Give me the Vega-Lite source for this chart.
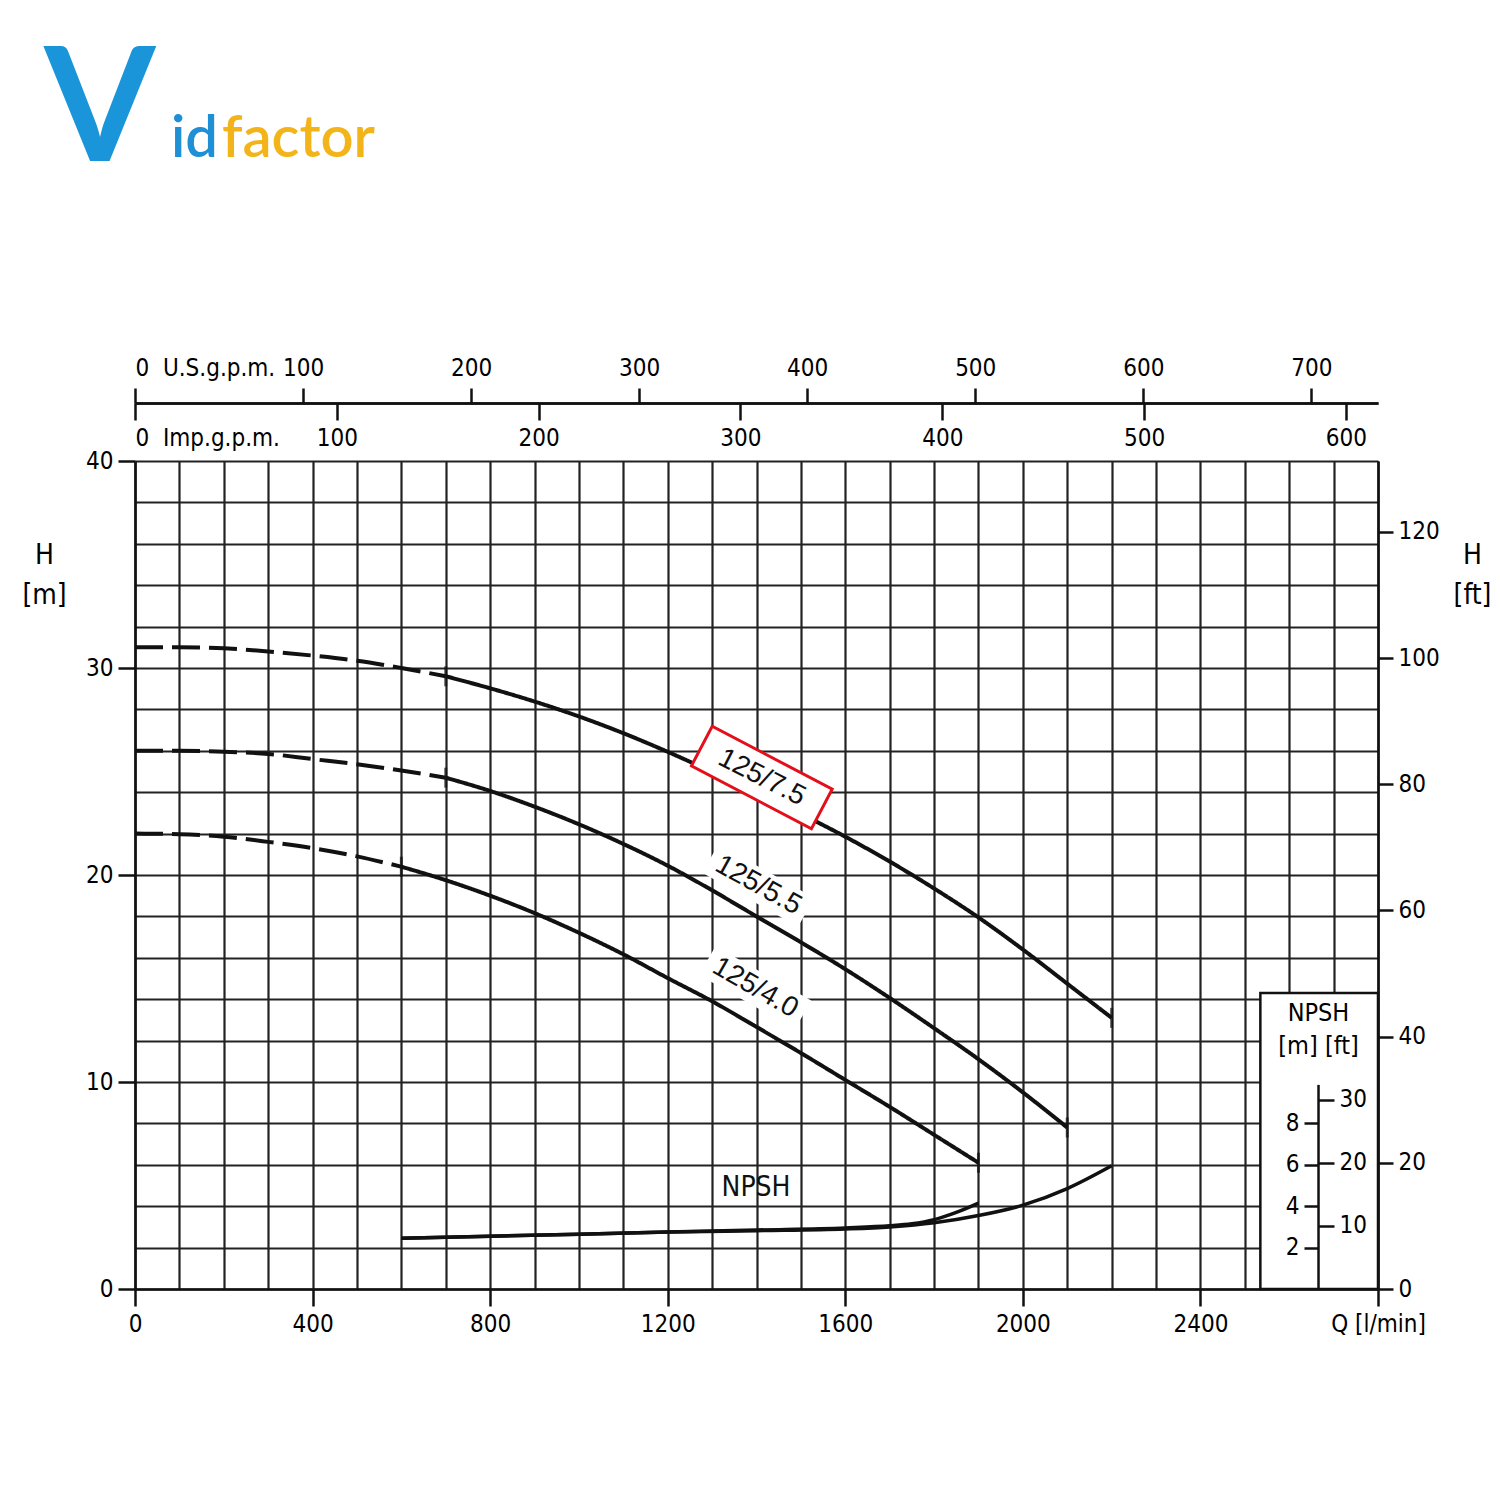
{
  "$schema": "https://vega.github.io/schema/vega-lite/v6.json",
  "width": 1243,
  "height": 828,
  "autosize": "none",
  "padding": {"left": 135, "top": 461, "right": 122, "bottom": 211},
  "background": "white",
  "config": {
    "view": {"stroke": null},
    "font": "DejaVu Sans Condensed, DejaVu Sans, sans-serif",
    "axis": {
      "labelFont": "DejaVu Sans Condensed, DejaVu Sans, sans-serif",
      "titleFont": "DejaVu Sans Condensed, DejaVu Sans, sans-serif",
      "labelFontSize": 24,
      "labelColor": "#000",
      "titleColor": "#000",
      "titleFontWeight": "normal",
      "tickColor": "#111",
      "tickWidth": 2.5,
      "domainColor": "#111",
      "domainWidth": 2.5,
      "labelFlush": false,
      "labelOverlap": false,
      "labelBound": false,
      "grid": false
    }
  },
  "datasets": {
    "curves": [
      {"seg": "7.5d", "part": "dashed", "q": 0, "h": 31.0},
      {"seg": "7.5d", "part": "dashed", "q": 100, "h": 31.0},
      {"seg": "7.5d", "part": "dashed", "q": 200, "h": 30.95},
      {"seg": "7.5d", "part": "dashed", "q": 300, "h": 30.8},
      {"seg": "7.5d", "part": "dashed", "q": 400, "h": 30.6},
      {"seg": "7.5d", "part": "dashed", "q": 500, "h": 30.35},
      {"seg": "7.5d", "part": "dashed", "q": 600, "h": 30.0},
      {"seg": "7.5d", "part": "dashed", "q": 700, "h": 29.6},
      {"seg": "7.5s", "part": "solid", "q": 700, "h": 29.6},
      {"seg": "7.5s", "part": "solid", "q": 800, "h": 29.02},
      {"seg": "7.5s", "part": "solid", "q": 900, "h": 28.38},
      {"seg": "7.5s", "part": "solid", "q": 1000, "h": 27.66},
      {"seg": "7.5s", "part": "solid", "q": 1100, "h": 26.85},
      {"seg": "7.5s", "part": "solid", "q": 1200, "h": 25.95},
      {"seg": "7.5s", "part": "solid", "q": 1300, "h": 24.98},
      {"seg": "7.5s", "part": "solid", "q": 1400, "h": 23.98},
      {"seg": "7.5s", "part": "solid", "q": 1500, "h": 22.95},
      {"seg": "7.5s", "part": "solid", "q": 1600, "h": 21.85},
      {"seg": "7.5s", "part": "solid", "q": 1700, "h": 20.65},
      {"seg": "7.5s", "part": "solid", "q": 1800, "h": 19.35},
      {"seg": "7.5s", "part": "solid", "q": 1900, "h": 17.95},
      {"seg": "7.5s", "part": "solid", "q": 2000, "h": 16.4},
      {"seg": "7.5s", "part": "solid", "q": 2100, "h": 14.75},
      {"seg": "7.5s", "part": "solid", "q": 2200, "h": 13.1},
      {"seg": "5.5d", "part": "dashed", "q": 0, "h": 26.0},
      {"seg": "5.5d", "part": "dashed", "q": 100, "h": 26.0},
      {"seg": "5.5d", "part": "dashed", "q": 200, "h": 25.95},
      {"seg": "5.5d", "part": "dashed", "q": 300, "h": 25.85},
      {"seg": "5.5d", "part": "dashed", "q": 400, "h": 25.6},
      {"seg": "5.5d", "part": "dashed", "q": 500, "h": 25.35},
      {"seg": "5.5d", "part": "dashed", "q": 600, "h": 25.05},
      {"seg": "5.5d", "part": "dashed", "q": 700, "h": 24.7},
      {"seg": "5.5s", "part": "solid", "q": 700, "h": 24.7},
      {"seg": "5.5s", "part": "solid", "q": 800, "h": 24.06},
      {"seg": "5.5s", "part": "solid", "q": 900, "h": 23.3},
      {"seg": "5.5s", "part": "solid", "q": 1000, "h": 22.45},
      {"seg": "5.5s", "part": "solid", "q": 1100, "h": 21.5},
      {"seg": "5.5s", "part": "solid", "q": 1200, "h": 20.45},
      {"seg": "5.5s", "part": "solid", "q": 1300, "h": 19.26},
      {"seg": "5.5s", "part": "solid", "q": 1400, "h": 18.0},
      {"seg": "5.5s", "part": "solid", "q": 1500, "h": 16.75},
      {"seg": "5.5s", "part": "solid", "q": 1600, "h": 15.45},
      {"seg": "5.5s", "part": "solid", "q": 1700, "h": 14.06},
      {"seg": "5.5s", "part": "solid", "q": 1800, "h": 12.6},
      {"seg": "5.5s", "part": "solid", "q": 1900, "h": 11.1},
      {"seg": "5.5s", "part": "solid", "q": 2000, "h": 9.5},
      {"seg": "5.5s", "part": "solid", "q": 2100, "h": 7.8},
      {"seg": "4.0d", "part": "dashed", "q": 0, "h": 22.0},
      {"seg": "4.0d", "part": "dashed", "q": 100, "h": 21.97},
      {"seg": "4.0d", "part": "dashed", "q": 200, "h": 21.85},
      {"seg": "4.0d", "part": "dashed", "q": 300, "h": 21.6},
      {"seg": "4.0d", "part": "dashed", "q": 400, "h": 21.3},
      {"seg": "4.0d", "part": "dashed", "q": 500, "h": 20.9},
      {"seg": "4.0d", "part": "dashed", "q": 600, "h": 20.4},
      {"seg": "4.0s", "part": "solid", "q": 600, "h": 20.4},
      {"seg": "4.0s", "part": "solid", "q": 700, "h": 19.75},
      {"seg": "4.0s", "part": "solid", "q": 800, "h": 19.0},
      {"seg": "4.0s", "part": "solid", "q": 900, "h": 18.16},
      {"seg": "4.0s", "part": "solid", "q": 1000, "h": 17.21},
      {"seg": "4.0s", "part": "solid", "q": 1100, "h": 16.17},
      {"seg": "4.0s", "part": "solid", "q": 1200, "h": 15.02},
      {"seg": "4.0s", "part": "solid", "q": 1300, "h": 13.9},
      {"seg": "4.0s", "part": "solid", "q": 1400, "h": 12.66},
      {"seg": "4.0s", "part": "solid", "q": 1500, "h": 11.4},
      {"seg": "4.0s", "part": "solid", "q": 1600, "h": 10.1},
      {"seg": "4.0s", "part": "solid", "q": 1700, "h": 8.8},
      {"seg": "4.0s", "part": "solid", "q": 1800, "h": 7.45},
      {"seg": "4.0s", "part": "solid", "q": 1900, "h": 6.1}
    ],
    "npsh": [
      {"branch": "A", "q": 600, "h": 2.45},
      {"branch": "A", "q": 800, "h": 2.55},
      {"branch": "A", "q": 1000, "h": 2.65},
      {"branch": "A", "q": 1200, "h": 2.75},
      {"branch": "A", "q": 1400, "h": 2.85},
      {"branch": "A", "q": 1600, "h": 2.95},
      {"branch": "A", "q": 1700, "h": 3.05},
      {"branch": "A", "q": 1750, "h": 3.15},
      {"branch": "A", "q": 1800, "h": 3.35},
      {"branch": "A", "q": 1850, "h": 3.7},
      {"branch": "A", "q": 1900, "h": 4.15},
      {"branch": "B", "q": 600, "h": 2.45},
      {"branch": "B", "q": 800, "h": 2.55},
      {"branch": "B", "q": 1000, "h": 2.65},
      {"branch": "B", "q": 1200, "h": 2.75},
      {"branch": "B", "q": 1400, "h": 2.82},
      {"branch": "B", "q": 1600, "h": 2.9},
      {"branch": "B", "q": 1700, "h": 3.0},
      {"branch": "B", "q": 1800, "h": 3.2},
      {"branch": "B", "q": 1900, "h": 3.55},
      {"branch": "B", "q": 2000, "h": 4.05},
      {"branch": "B", "q": 2100, "h": 4.85},
      {"branch": "B", "q": 2200, "h": 5.95}
    ],
    "markers": [
      {"q": 700, "h": 29.6},
      {"q": 2200, "h": 13.1},
      {"q": 700, "h": 24.7},
      {"q": 2100, "h": 7.8},
      {"q": 600, "h": 20.4},
      {"q": 1900, "h": 6.1}
    ],
    "halos": [
      {"q": 1404, "h": 19.5, "label": "125/5.5"},
      {"q": 1397, "h": 14.55, "label": "125/4.0"}
    ]
  },
  "layer": [
    {
      "layer": [
        {
          "data": {"name": "halos"},
          "mark": {"type": "point", "shape": "M-1,-0.3L1,-0.3L1,0.3L-1,0.3Z", "size": 12100, "angle": 29.5, "filled": true, "fill": "white", "fillOpacity": 1, "strokeWidth": 0, "opacity": 1},
          "encoding": {
            "x": {
              "field": "q", "type": "quantitative",
              "scale": {"domain": [0, 2800], "nice": false, "zero": false},
              "axis": {
                "orient": "bottom",
                "title": null,
                "format": "d",
                "values": [0,100,200,300,400,500,600,700,800,900,1000,1100,1200,1300,1400,1500,1600,1700,1800,1900,2000,2100,2200,2300,2400,2500,2600,2700,2800],
                "labelExpr": "datum.value % 400 == 0 ? (datum.value == 2800 ? 'Q [l/min]' : datum.label) : ''",
                "tickSize": 17,
                "tickOpacity": {"condition": {"test": "datum.value % 400 == 0", "value": 1}, "value": 0},
                "labelPadding": 6,
                "grid": true,
                "gridColor": "#222",
                "gridWidth": 2.2,
                "gridOpacity": 1
              }
            },
            "y": {
              "field": "h", "type": "quantitative",
              "scale": {"domain": [0, 40], "nice": false, "zero": false},
              "axis": {
                "orient": "left",
                "format": "d",
                "values": [0,2,4,6,8,10,12,14,16,18,20,22,24,26,28,30,32,34,36,38,40],
                "labelExpr": "datum.value % 10 == 0 ? datum.label : ''",
                "tickSize": 17,
                "tickOpacity": {"condition": {"test": "datum.value % 10 == 0", "value": 1}, "value": 0},
                "labelPadding": 5,
                "grid": true,
                "gridColor": "#222",
                "gridWidth": 2.2,
                "gridOpacity": 1,
                "title": ["H", "[m]"],
                "titleAngle": 0,
                "titleFontSize": 28,
                "titleLineHeight": 40,
                "titleAlign": "center",
                "titleBaseline": "middle",
                "titleX": -91,
                "titleY": 94
              }
            }
          }
        },
        {
          "data": {"name": "curves"},
          "mark": {"type": "line", "color": "#111", "strokeWidth": 4, "interpolate": "monotone"},
          "encoding": {
            "x": {"field": "q", "type": "quantitative"},
            "y": {"field": "h", "type": "quantitative"},
            "detail": {"field": "seg"},
            "strokeDash": {
              "field": "part", "type": "nominal",
              "scale": {"domain": ["dashed", "solid"], "range": [[28, 9], [1, 0]]},
              "legend": null
            }
          }
        },
        {
          "data": {"name": "npsh"},
          "mark": {"type": "line", "color": "#111", "strokeWidth": 3.5, "interpolate": "monotone"},
          "encoding": {
            "x": {"field": "q", "type": "quantitative"},
            "y": {"field": "h", "type": "quantitative"},
            "detail": {"field": "branch"}
          }
        },
        {
          "data": {"name": "markers"},
          "mark": {"type": "tick", "orient": "vertical", "color": "#111", "size": 20, "thickness": 3},
          "encoding": {
            "x": {"field": "q", "type": "quantitative"},
            "y": {"field": "h", "type": "quantitative"}
          }
        },
        {
          "data": {"values": [{"q": 1412, "h": 24.71}]},
          "mark": {"type": "point", "shape": "M-1,-0.33L1,-0.33L1,0.33L-1,0.33Z", "size": 18360, "angle": 27.7, "filled": false, "fill": "white", "fillOpacity": 1, "stroke": "#e3101b", "strokeWidth": 3, "opacity": 1},
          "encoding": {
            "x": {"field": "q", "type": "quantitative"},
            "y": {"field": "h", "type": "quantitative"}
          }
        },
        {
          "data": {"values": [{"q": 1412, "h": 24.71, "label": "125/7.5"}]},
          "mark": {"type": "text", "angle": 27, "fontSize": 28, "font": "Liberation Sans", "color": "#111", "align": "center", "baseline": "middle"},
          "encoding": {
            "x": {"field": "q", "type": "quantitative"},
            "y": {"field": "h", "type": "quantitative"},
            "text": {"field": "label"}
          }
        },
        {
          "data": {"values": [{"q": 1404, "h": 19.5, "label": "125/5.5"}]},
          "mark": {"type": "text", "angle": 29, "fontSize": 28, "font": "Liberation Sans", "color": "#111", "align": "center", "baseline": "middle"},
          "encoding": {
            "x": {"field": "q", "type": "quantitative"},
            "y": {"field": "h", "type": "quantitative"},
            "text": {"field": "label"}
          }
        },
        {
          "data": {"values": [{"q": 1397, "h": 14.55, "label": "125/4.0"}]},
          "mark": {"type": "text", "angle": 30, "fontSize": 28, "font": "Liberation Sans", "color": "#111", "align": "center", "baseline": "middle"},
          "encoding": {
            "x": {"field": "q", "type": "quantitative"},
            "y": {"field": "h", "type": "quantitative"},
            "text": {"field": "label"}
          }
        },
        {
          "data": {"values": [{"q": 1399, "h": 4.88, "label": "NPSH"}]},
          "mark": {"type": "text", "fontSize": 28, "color": "#111", "align": "center", "baseline": "middle"},
          "encoding": {
            "x": {"field": "q", "type": "quantitative"},
            "y": {"field": "h", "type": "quantitative"},
            "text": {"field": "label"}
          }
        },
        {
          "data": {"values": [{"q": 2535, "q2": 2800, "h": 0, "h2": 14.3}]},
          "mark": {"type": "rect", "fill": "white", "stroke": "#111", "strokeWidth": 2.5},
          "encoding": {
            "x": {"field": "q", "type": "quantitative"},
            "x2": {"field": "q2"},
            "y": {"field": "h", "type": "quantitative"},
            "y2": {"field": "h2"}
          }
        },
        {
          "data": {"values": [{"q": -79, "h": 54.5, "label": "V"}]},
          "mark": {"type": "text", "fontSize": 160, "font": "Lato", "fontWeight": "bold", "color": "#1b95d9", "align": "center", "baseline": "alphabetic"},
          "encoding": {
            "x": {"field": "q", "type": "quantitative"},
            "y": {"field": "h", "type": "quantitative"},
            "text": {"field": "label"}
          }
        },
        {
          "data": {"values": [{"q": 187, "h": 54.69, "label": "id"}]},
          "mark": {"type": "text", "fontSize": 58, "font": "Lato", "fontWeight": 600, "color": "#1f8fd6", "align": "right", "baseline": "alphabetic"},
          "encoding": {
            "x": {"field": "q", "type": "quantitative"},
            "y": {"field": "h", "type": "quantitative"},
            "text": {"field": "label"}
          }
        },
        {
          "data": {"values": [{"q": 196, "h": 54.69, "label": "factor"}]},
          "mark": {"type": "text", "fontSize": 58, "font": "Lato", "fontWeight": 600, "color": "#f2b418", "align": "left", "baseline": "alphabetic"},
          "encoding": {
            "x": {"field": "q", "type": "quantitative"},
            "y": {"field": "h", "type": "quantitative"},
            "text": {"field": "label"}
          }
        }
      ]
    },
    {
      "data": {"values": [{"q": 2666, "h": 0, "h2": 9.86}]},
      "mark": {"type": "rule", "color": "#111", "strokeWidth": 2.5},
      "encoding": {
        "x": {"field": "q", "type": "quantitative", "scale": {"domain": [0, 2800], "nice": false, "zero": false}, "axis": null},
        "y": {
          "field": "h", "type": "quantitative",
          "scale": {"domain": [0, 40], "nice": false, "zero": false},
          "axis": {
            "orient": "left",
            "offset": -1183,
            "zindex": 2,
            "domain": false,
            "values": [2, 4, 6, 8],
            "format": "d",
            "tickSize": 14,
            "labelPadding": 5,
            "title": ["NPSH", "[m] [ft]"],
            "titleAngle": 0,
            "titleFontSize": 25,
            "titleLineHeight": 33,
            "titleAlign": "center",
            "titleBaseline": "middle",
            "titleX": 0,
            "titleY": 551
          }
        },
        "y2": {"field": "h2"}
      }
    },
    {
      "data": {"values": [{"ft": 0}, {"ft": 30}]},
      "mark": {"type": "point", "opacity": 0},
      "encoding": {
        "y": {
          "field": "ft", "type": "quantitative",
          "scale": {"domain": [0, 131.234], "nice": false, "zero": false},
          "axis": {
            "orient": "right",
            "offset": -60,
            "zindex": 2,
            "domain": false,
            "values": [10, 20, 30],
            "format": "d",
            "tickSize": 16,
            "labelPadding": 5,
            "title": null
          }
        }
      }
    },
    {
      "data": {"values": [{"ft": 0}, {"ft": 120}]},
      "mark": {"type": "point", "opacity": 0},
      "encoding": {
        "y": {
          "field": "ft", "type": "quantitative",
          "scale": {"domain": [0, 131.234], "nice": false, "zero": false},
          "axis": {
            "orient": "right",
            "zindex": 1,
            "values": [0, 20, 40, 60, 80, 100, 120],
            "format": "d",
            "tickSize": 15,
            "labelPadding": 5,
            "title": ["H", "[ft]"],
            "titleAngle": 0,
            "titleFontSize": 28,
            "titleLineHeight": 40,
            "titleAlign": "center",
            "titleBaseline": "middle",
            "titleX": 94,
            "titleY": 94
          }
        }
      }
    },
    {
      "data": {"values": [{"g": 0}, {"g": 700}]},
      "mark": {"type": "point", "opacity": 0},
      "encoding": {
        "x": {
          "field": "g", "type": "quantitative",
          "scale": {"domain": [0, 739.68], "nice": false, "zero": false},
          "axis": {
            "orient": "top",
            "offset": 58,
            "values": [0, 100, 200, 300, 400, 500, 600, 700],
            "format": "d",
            "labelExpr": "datum.value == 0 ? '0\u00a0\u00a0U.S.g.p.m.' : datum.label",
            "labelAlign": {"condition": {"test": "datum.value == 0", "value": "left"}, "value": "center"},
            "tickSize": 15,
            "labelPadding": 8,
            "title": null
          }
        }
      }
    },
    {
      "data": {"values": [{"g": 0}, {"g": 600}]},
      "mark": {"type": "point", "opacity": 0},
      "encoding": {
        "x": {
          "field": "g", "type": "quantitative",
          "scale": {"domain": [0, 615.91], "nice": false, "zero": false},
          "axis": {
            "orient": "bottom",
            "offset": -886,
            "values": [0, 100, 200, 300, 400, 500, 600],
            "format": "d",
            "labelExpr": "datum.value == 0 ? '0\u00a0\u00a0Imp.g.p.m.' : datum.label",
            "labelAlign": {"condition": {"test": "datum.value == 0", "value": "left"}, "value": "center"},
            "tickSize": 17,
            "labelPadding": 6,
            "title": null
          }
        }
      }
    }
  ],
  "resolve": {"scale": {"x": "independent", "y": "independent"}}
}
